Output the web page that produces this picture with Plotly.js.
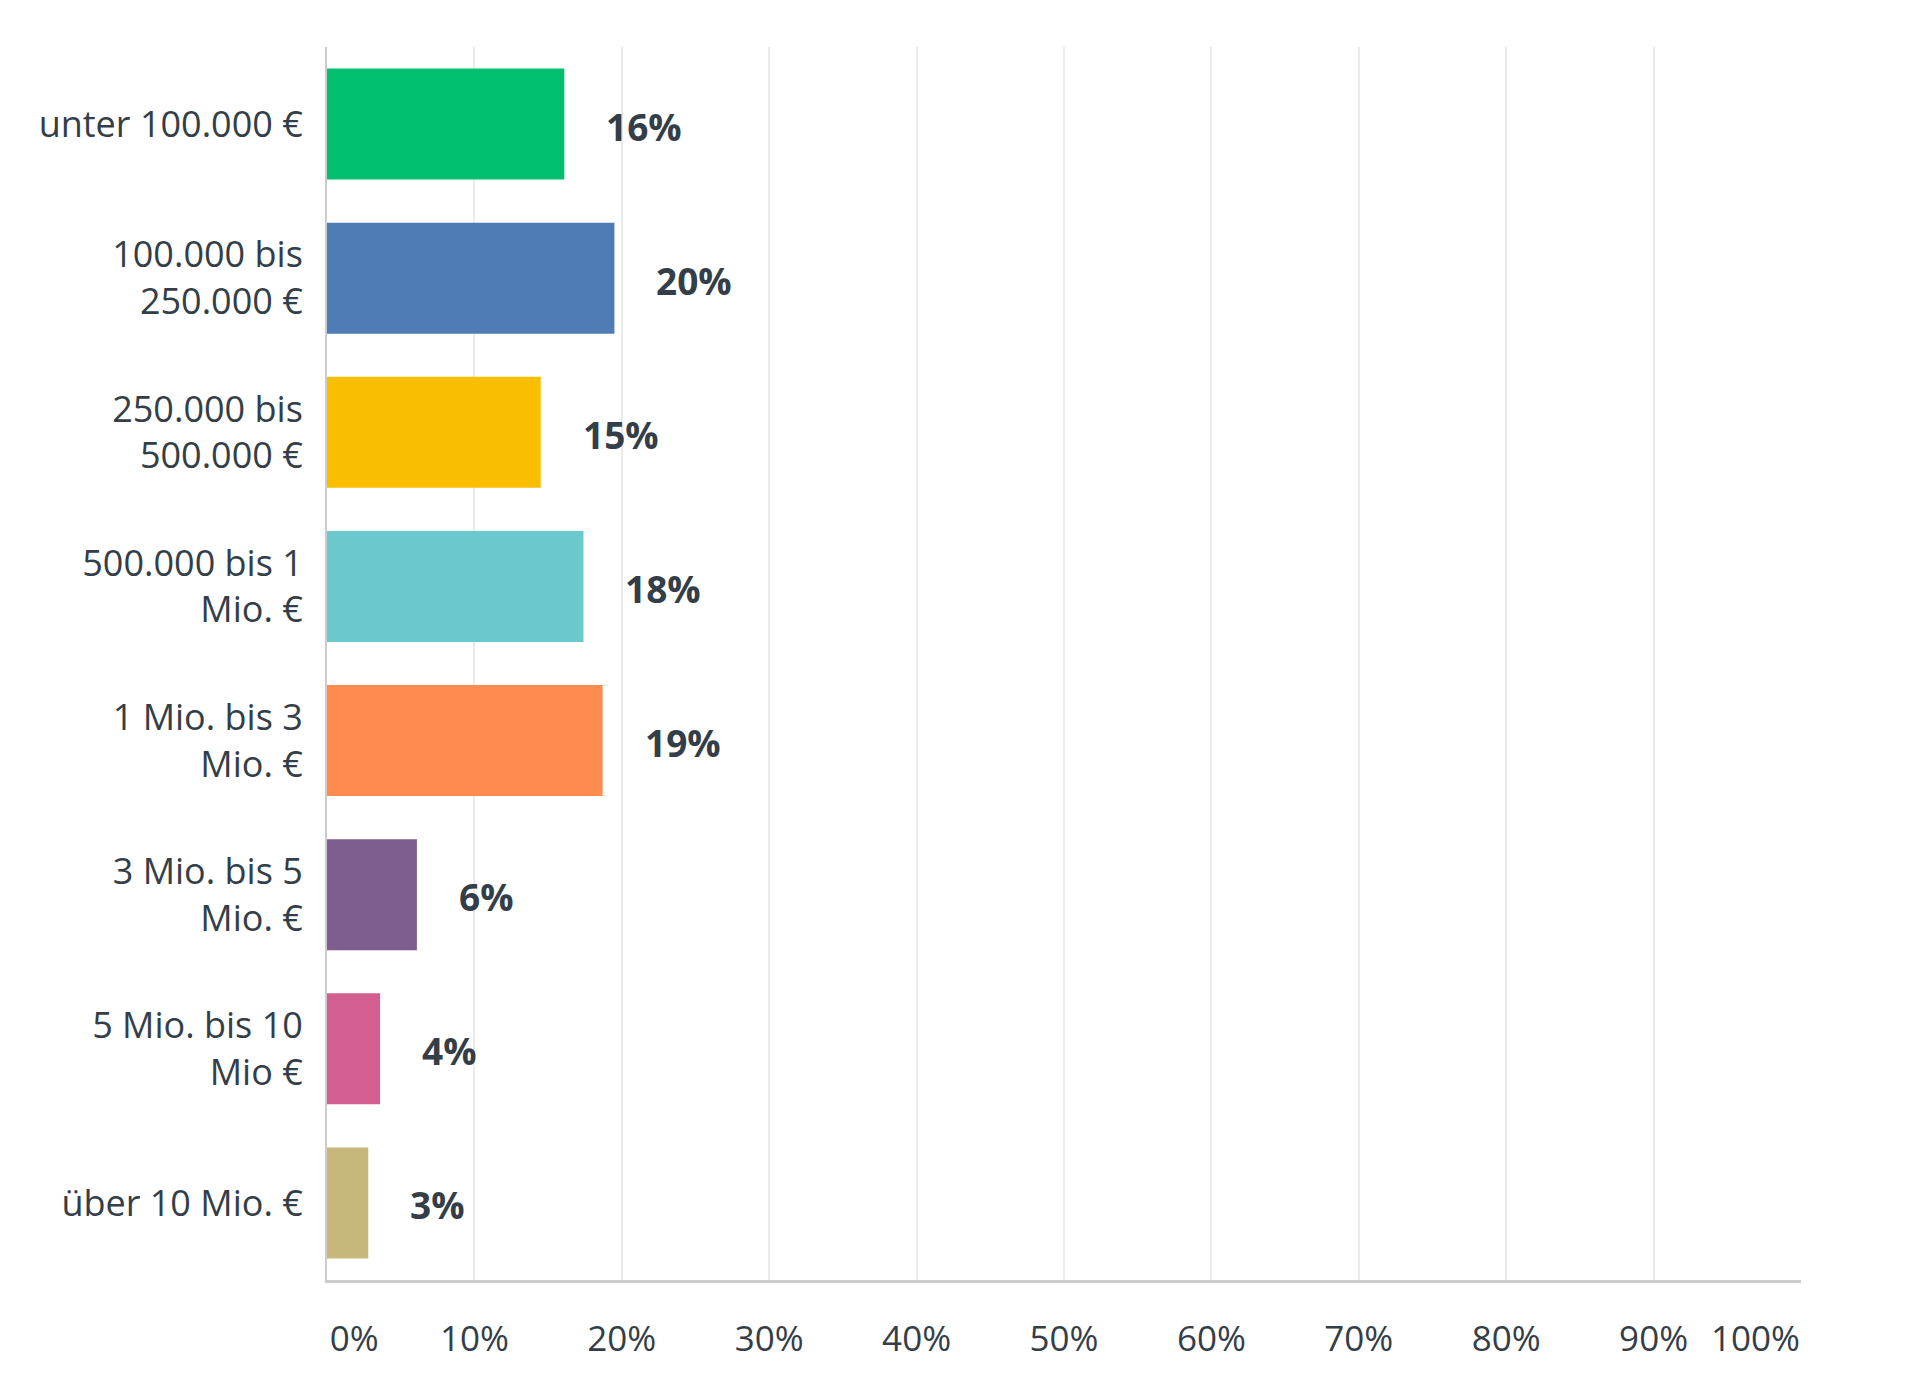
<!DOCTYPE html>
<html>
<head>
<meta charset="utf-8">
<script src="https://cdn.plot.ly/plotly-3.0.1.min.js"></script>
<style>html,body{margin:0;padding:0;background:#fff;}#chart{width:1920px;height:1398px;}</style>
</head>
<body>
<div id="chart"></div>
<script>
const categories = [
  "unter 100.000 €",
  "100.000 bis<br>250.000 €",
  "250.000 bis<br>500.000 €",
  "500.000 bis 1<br>Mio. €",
  "1 Mio. bis 3<br>Mio. €",
  "3 Mio. bis 5<br>Mio. €",
  "5 Mio. bis 10<br>Mio €",
  "über 10 Mio. €"
];
const values = [16.1, 19.5, 14.5, 17.4, 18.7, 6.1, 3.6, 2.8];
const valueLabels = ["16%", "20%", "15%", "18%", "19%", "6%", "4%", "3%"];
const barColors = ["#00bf6f", "#507cb6", "#f9be00", "#6bc8cd", "#ff8b4f", "#7d5e8e", "#d25f90", "#c8b77a"];
const tickValues = [0, 10, 20, 30, 40, 50, 60, 70, 80, 90, 100];
const tickLabels = ["0%", "10%", "20%", "30%", "40%", "50%", "60%", "70%", "80%", "90%", "100%"];

const NB = "\u00a0";
const tickText = tickLabels.map((t, i) => {
  if (i === 0) return NB.repeat(6) + t;
  if (i === tickLabels.length - 1) return t + NB.repeat(10);
  return t;
});

const fontFam = "Open Sans, sans-serif";
const textColor = "#333e48";

const trace = {
  type: "bar",
  orientation: "h",
  y: categories,
  x: values,
  marker: { color: barColors, line: { width: 0 } },
  hoverinfo: "none"
};

const annotations = values.map((v, i) => ({
  x: v, y: categories[i], xref: "x", yref: "y",
  text: "<b>" + valueLabels[i] + "</b>",
  showarrow: false, xanchor: "left", yanchor: "middle",
  xshift: 40, yshift: -2,
  font: { family: fontFam, size: 37, color: textColor }
}));

const layout = {
  width: 1920, height: 1398,
  margin: { l: 327, r: 119, t: 47, b: 118 },
  paper_bgcolor: "#fff", plot_bgcolor: "#fff",
  bargap: 0.28,
  showlegend: false,
  xaxis: {
    range: [0, 100],
    tickvals: tickValues,
    ticktext: tickText,
    showgrid: true, gridcolor: "#ebebeb", gridwidth: 2,
    zeroline: false,
    showline: true, linecolor: "#cccccc", linewidth: 3,
    ticks: "", ticklabelstandoff: 26,
    tickfont: { family: fontFam, size: 35, color: textColor },
    fixedrange: true
  },
  yaxis: {
    autorange: "reversed",
    type: "category",
    showgrid: false, zeroline: false,
    showline: true, linecolor: "#cccccc", linewidth: 2,
    ticks: "", ticklabelstandoff: 15,
    tickfont: { family: fontFam, size: 36, color: textColor },
    fixedrange: true
  },
  annotations: annotations
};

Plotly.newPlot("chart", [trace], layout, { displayModeBar: false, staticPlot: true });
</script>
</body>
</html>
